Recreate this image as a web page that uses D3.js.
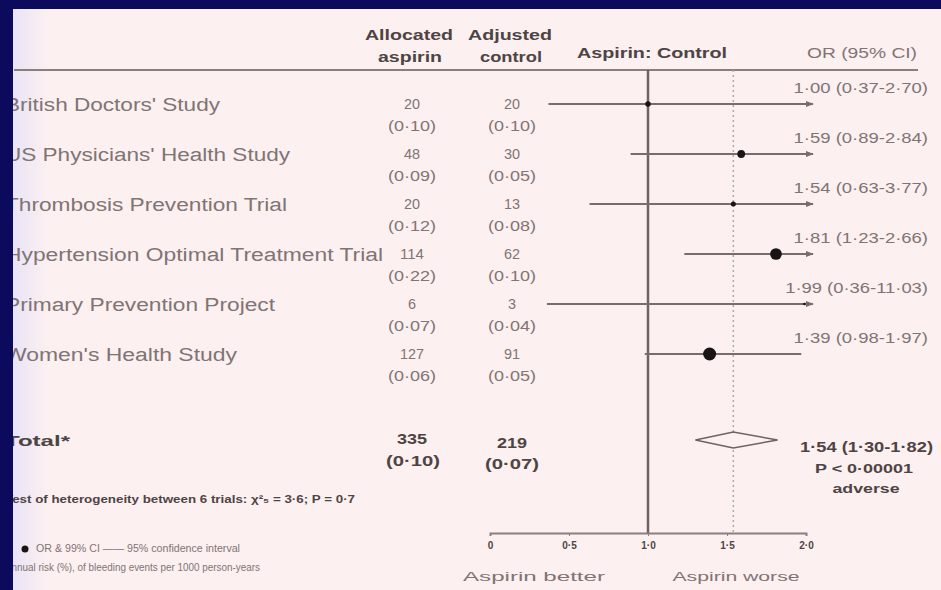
<!DOCTYPE html>
<html><head><meta charset="utf-8">
<script src="https://cdn.jsdelivr.net/npm/d3@7"></script>
<style>
html,body{margin:0;padding:0;background:#fcf0f0;}
svg{display:block;font-family:"Liberation Sans",Arial,sans-serif;}
</style></head>
<body><svg id="c" width="941" height="590"></svg>
<script>
const studies = ["British Doctors' Study","US Physicians' Health Study","Thrombosis Prevention Trial","Hypertension Optimal Treatment Trial","Primary Prevention Project","Women's Health Study"];
const aspirinN = ["20","48","20","114","6","127"];
const aspirinRate = ["(0·10)","(0·09)","(0·12)","(0·22)","(0·07)","(0·06)"];
const controlN = ["20","30","13","62","3","91"];
const controlRate = ["(0·10)","(0·05)","(0·08)","(0·10)","(0·04)","(0·05)"];
const orVal = [1.00,1.59,1.54,1.81,1.99,1.39];
const orLo = [0.37,0.89,0.63,1.23,0.36,0.98];
const orHi = [2.70,2.84,3.77,2.66,11.03,1.97];
const weights = [40,78,33,176,9,218];
const orLabels = ["1·00 (0·37-2·70)","1·59 (0·89-2·84)","1·54 (0·63-3·77)","1·81 (1·23-2·66)","1·99 (0·36-11·03)","1·39 (0·98-1·97)"];
const total = {n1:"335", r1:"(0·10)", n2:"219", r2:"(0·07)", or:1.54, lo:1.30, hi:1.82, label:"1·54 (1·30-1·82)", p:"P < 0·00001", dir:"adverse"};
const tickVals = [0,0.5,1,1.5,2];
const tickLabels = ["0","0·5","1·0","1·5","2·0"];

const svg = d3.select("#c");
const W=941,H=590;
svg.append("rect").attr("width",W).attr("height",H).attr("fill","#fcf0f0");
const defs = svg.append("defs");
const g1 = defs.append("linearGradient").attr("id","lg").attr("x1",0).attr("x2",1);
g1.append("stop").attr("offset",0).attr("stop-color","#e9e4f6");
g1.append("stop").attr("offset",1).attr("stop-color","#fcf0f0");
svg.append("rect").attr("x",13).attr("y",9).attr("width",35).attr("height",H).attr("fill","url(#lg)");
defs.append("marker").attr("id","arr").attr("viewBox","0 0 10 10").attr("refX",9).attr("refY",5)
  .attr("markerWidth",4).attr("markerHeight",4).attr("orient","auto")
  .append("path").attr("d","M0,1 L10,5 L0,9 Z").attr("fill","#7a6c6c");

const x = d3.scaleLinear().domain([0,2]).range([490,806]);
const y = d3.scaleLinear().domain([0,5]).range([104,354]);
const r = d3.scaleSqrt().domain([0,218]).range([0,6.5]);
const txt = "#807474", dark="#4e4444";

function T(px,py,s,o){
  const t = svg.append("text").attr("x",px).attr("y",py).text(s)
    .attr("font-size",o.size||14).attr("fill",o.fill||txt)
    .attr("text-anchor",o.anchor||"start").attr("font-weight",o.bold?"bold":"normal");
  if(o.w){ t.attr("textLength",o.w).attr("lengthAdjust","spacingAndGlyphs"); }
  return t;
}

// header
T(409,40,"Allocated",{size:14,bold:1,fill:dark,anchor:"middle",w:88});
T(410,62,"aspirin",{size:14,bold:1,fill:dark,anchor:"middle",w:64});
T(510,40,"Adjusted",{size:14,bold:1,fill:dark,anchor:"middle",w:84});
T(511,62,"control",{size:14,bold:1,fill:dark,anchor:"middle",w:62});
T(652,58,"Aspirin: Control",{size:15,bold:1,fill:dark,anchor:"middle",w:150});
T(862,58,"OR (95% CI)",{size:14,fill:txt,anchor:"middle",w:110});
svg.append("line").attr("x1",14).attr("x2",918).attr("y1",70).attr("y2",70).attr("stroke","#8a7e7e").attr("stroke-width",2);

// reference lines
svg.append("line").attr("x1",x(1)).attr("x2",x(1)).attr("y1",70).attr("y2",533).attr("stroke","#6e6262").attr("stroke-width",2.5);
svg.append("line").attr("x1",x(total.or)).attr("x2",x(total.or)).attr("y1",70).attr("y2",533).attr("stroke","#b7a8a8").attr("stroke-width",1.5).attr("stroke-dasharray","2,3");

const nameEnds = [220,290,287,383,275,237];
studies.forEach((s,i)=>{
  const yy = y(i);
  T(5,yy+7,s,{size:18,w:nameEnds[i]-5});
  T(412,yy+5,aspirinN[i],{size:15,anchor:"middle",w:aspirinN[i].length*8});
  T(412,yy+27,aspirinRate[i],{size:15,anchor:"middle",w:48});
  T(512,yy+5,controlN[i],{size:15,anchor:"middle",w:controlN[i].length*8});
  T(512,yy+27,controlRate[i],{size:15,anchor:"middle",w:48});
  const over = orHi[i] > 2;
  svg.append("line").attr("x1",x(Math.max(0,orLo[i]))).attr("x2",over?x(2)+7:x(orHi[i]))
    .attr("y1",yy).attr("y2",yy).attr("stroke","#7a6c6c").attr("stroke-width",2)
    .attr("marker-end",over?"url(#arr)":null);
  svg.append("circle").attr("cx",x(orVal[i])).attr("cy",yy).attr("r",r(weights[i])).attr("fill","#1a1414");
  T(928,yy-11,orLabels[i],{size:14,anchor:"end",w:orLabels[i].length*8.4});
});

// total
const ty = 440;
T(5,ty+6,"Total*",{size:15,bold:1,fill:dark,w:65});
T(412,ty+4,total.n1,{size:15,bold:1,fill:dark,anchor:"middle",w:30});
T(413,ty+26,total.r1,{size:15,bold:1,fill:dark,anchor:"middle",w:54});
T(512,ty+8,total.n2,{size:15,bold:1,fill:dark,anchor:"middle",w:30});
T(512,ty+29,total.r2,{size:15,bold:1,fill:dark,anchor:"middle",w:54});
svg.append("path").attr("d",`M${x(total.lo)},${ty} L${x(total.or)},${ty-8} L${x(total.hi)},${ty} L${x(total.or)},${ty+8} Z`)
  .attr("fill","#fcf0f0").attr("stroke","#6e6262").attr("stroke-width",1.5);
T(933,ty+12,total.label,{size:14,bold:1,fill:dark,anchor:"end",w:133});
T(864,ty+33,total.p,{size:12,bold:1,fill:dark,anchor:"middle",w:98});
T(866,ty+53,total.dir,{size:12,bold:1,fill:dark,anchor:"middle",w:67});

// heterogeneity & notes
T(5,503,"Test of heterogeneity between 6 trials: χ²₅ = 3·6; P = 0·7",{size:11,bold:1,fill:dark,w:350});
svg.append("circle").attr("cx",25).attr("cy",549).attr("r",3.5).attr("fill","#1a1414");
T(36,552,"OR & 99% CI —— 95% confidence interval",{size:10,fill:txt,w:204});
T(5,571,"Annual risk (%), of bleeding events per 1000 person-years",{size:10,fill:txt,w:255});

// axis
const ax = d3.axisBottom(x).tickValues(tickVals).tickFormat((d,i)=>tickLabels[i]).tickSize(3);
const ag = svg.append("g").attr("transform","translate(0,533)").call(ax);
ag.select(".domain").attr("stroke","#8a7e7e").attr("stroke-width",2);
ag.selectAll(".tick line").attr("stroke","#8a7e7e");
ag.selectAll(".tick text").attr("fill",dark).attr("font-size",10).attr("font-weight","bold").attr("font-family","Liberation Sans, Arial, sans-serif").attr("dy","1.0em");
T(534,581,"Aspirin better",{size:13,anchor:"middle",w:142});
T(736,581,"Aspirin worse",{size:13,anchor:"middle",w:127});

// frame
svg.append("rect").attr("x",0).attr("y",0).attr("width",W).attr("height",9).attr("fill","#0b0a5c");
svg.append("rect").attr("x",0).attr("y",0).attr("width",13).attr("height",H).attr("fill","#0b0a5c");
</script></body></html>
